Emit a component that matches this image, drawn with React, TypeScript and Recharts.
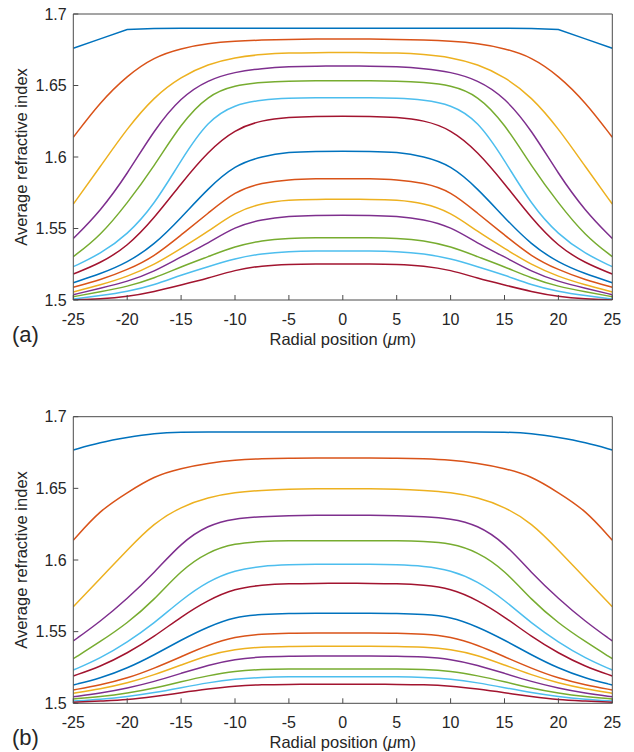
import React from 'react';
import { LineChart, Line, XAxis, YAxis } from 'recharts';

const FONT = '"Liberation Sans", Arial, Helvetica, sans-serif';
const TEXT = '#262626';
const AXIS = '#4a4a4a';
const COLORS = ['#0072BD', '#D95319', '#EDB120', '#7E2F8E', '#77AC30', '#4DBEEE', '#A2142F'];

const radialPositions = [-25, -22.5, -20, -17.5, -15, -12.5, -10, -7.5, -5, -2.5, 0, 2.5, 5, 7.5, 10, 12.5, 15, 17.5, 20, 22.5, 25];
const xTicks = [-25, -20, -15, -10, -5, 0, 5, 10, 15, 20, 25];
const yTicks = [1.5, 1.55, 1.6, 1.65, 1.7];
const xTitle = 'Radial position (';
const yTitle = 'Average refractive index';

// Panel (a)
const a1 = [1.676, 1.6826, 1.6892, 1.6898, 1.69, 1.69, 1.69, 1.69, 1.69, 1.69, 1.69, 1.69, 1.69, 1.69, 1.69, 1.69, 1.69, 1.6898, 1.6892, 1.6826, 1.676];
const a2 = [1.6138, 1.6385, 1.657, 1.67, 1.676, 1.6795, 1.681, 1.6818, 1.6823, 1.6825, 1.6825, 1.6825, 1.6823, 1.6818, 1.681, 1.6795, 1.676, 1.67, 1.657, 1.6385, 1.6138];
const a3 = [1.5671, 1.5932, 1.6201, 1.6422, 1.6562, 1.665, 1.6697, 1.6718, 1.6728, 1.673, 1.673, 1.673, 1.6728, 1.6718, 1.6697, 1.665, 1.6562, 1.6422, 1.6201, 1.5932, 1.5671];
const a4 = [1.543, 1.562, 1.588, 1.619, 1.642, 1.654, 1.6595, 1.662, 1.6632, 1.6636, 1.6636, 1.6636, 1.6632, 1.662, 1.6595, 1.654, 1.642, 1.619, 1.588, 1.562, 1.543];
const a5 = [1.5303, 1.5448, 1.5676, 1.5935, 1.6235, 1.6434, 1.6503, 1.6522, 1.6531, 1.6534, 1.6534, 1.6534, 1.6531, 1.6522, 1.6503, 1.6434, 1.6235, 1.5935, 1.5676, 1.5448, 1.5303];
const a6 = [1.5233, 1.5322, 1.5455, 1.5664, 1.5979, 1.6259, 1.6368, 1.64, 1.6412, 1.6415, 1.6415, 1.6415, 1.6412, 1.64, 1.6368, 1.6259, 1.5979, 1.5664, 1.5455, 1.5322, 1.5233];
const a7 = [1.5182, 1.5257, 1.5373, 1.5571, 1.5815, 1.604, 1.6195, 1.6258, 1.6278, 1.6285, 1.6285, 1.6285, 1.6278, 1.6258, 1.6195, 1.604, 1.5815, 1.5571, 1.5373, 1.5257, 1.5182];
const a8 = [1.5121, 1.5182, 1.5261, 1.5385, 1.5575, 1.5781, 1.5944, 1.6005, 1.6035, 1.604, 1.604, 1.604, 1.6035, 1.6005, 1.5944, 1.5781, 1.5575, 1.5385, 1.5261, 1.5182, 1.5121];
const a9 = [1.5089, 1.514, 1.521, 1.5303, 1.5455, 1.5606, 1.5762, 1.582, 1.5843, 1.5848, 1.5848, 1.5848, 1.5843, 1.582, 1.5762, 1.5606, 1.5455, 1.5303, 1.521, 1.514, 1.5089];
const a10 = [1.5056, 1.5105, 1.5163, 1.5245, 1.5361, 1.5478, 1.5615, 1.5678, 1.57, 1.5704, 1.5704, 1.5704, 1.57, 1.5678, 1.5615, 1.5478, 1.5361, 1.5245, 1.5163, 1.5105, 1.5056];
const a11 = [1.5037, 1.5082, 1.5128, 1.5198, 1.5303, 1.5396, 1.5513, 1.5565, 1.5587, 1.5592, 1.5592, 1.5592, 1.5587, 1.5565, 1.5513, 1.5396, 1.5303, 1.5198, 1.5128, 1.5082, 1.5037];
const a12 = [1.5023, 1.5058, 1.5093, 1.5152, 1.5233, 1.5303, 1.5375, 1.5418, 1.5432, 1.5436, 1.5436, 1.5436, 1.5432, 1.5418, 1.5375, 1.5303, 1.5233, 1.5152, 1.5093, 1.5058, 1.5023];
const a13 = [1.5007, 1.503, 1.5058, 1.5105, 1.5175, 1.5233, 1.529, 1.5325, 1.534, 1.5343, 1.5343, 1.5343, 1.534, 1.5325, 1.529, 1.5233, 1.5175, 1.5105, 1.5058, 1.503, 1.5007];
const a14 = [1.5, 1.5007, 1.5023, 1.5058, 1.5105, 1.5152, 1.521, 1.524, 1.525, 1.5252, 1.5252, 1.5252, 1.525, 1.524, 1.521, 1.5152, 1.5105, 1.5058, 1.5023, 1.5007, 1.5];

// Panel (b)
const b1 = [1.6768, 1.6821, 1.6856, 1.6884, 1.6893, 1.6893, 1.6893, 1.6893, 1.6893, 1.6893, 1.6893, 1.6893, 1.6893, 1.6893, 1.6893, 1.6893, 1.6893, 1.6884, 1.6856, 1.6821, 1.6768];
const b2 = [1.6138, 1.6349, 1.647, 1.6586, 1.664, 1.6675, 1.6698, 1.6707, 1.6711, 1.6712, 1.6712, 1.6712, 1.6711, 1.6707, 1.6698, 1.6675, 1.664, 1.6586, 1.647, 1.6349, 1.6138];
const b3 = [1.5674, 1.587, 1.607, 1.626, 1.6372, 1.6437, 1.6472, 1.6486, 1.6495, 1.6498, 1.6498, 1.6498, 1.6495, 1.6486, 1.6472, 1.6437, 1.6372, 1.626, 1.607, 1.587, 1.5674];
const b4 = [1.5435, 1.557, 1.573, 1.591, 1.612, 1.6245, 1.629, 1.6303, 1.631, 1.6312, 1.6312, 1.6312, 1.631, 1.6303, 1.629, 1.6245, 1.612, 1.591, 1.573, 1.557, 1.5435];
const b5 = [1.5311, 1.543, 1.5558, 1.5721, 1.593, 1.6058, 1.6117, 1.613, 1.6134, 1.6135, 1.6135, 1.6135, 1.6134, 1.613, 1.6117, 1.6058, 1.593, 1.5721, 1.5558, 1.543, 1.5311];
const b6 = [1.5232, 1.5314, 1.5426, 1.5558, 1.5721, 1.5853, 1.593, 1.5958, 1.5967, 1.597, 1.597, 1.597, 1.5967, 1.5958, 1.593, 1.5853, 1.5721, 1.5558, 1.5426, 1.5314, 1.5232];
const b7 = [1.5191, 1.5256, 1.5349, 1.5465, 1.5604, 1.5721, 1.5802, 1.5826, 1.5835, 1.5837, 1.5837, 1.5837, 1.5835, 1.5826, 1.5802, 1.5721, 1.5604, 1.5465, 1.5349, 1.5256, 1.5191];
const b8 = [1.5128, 1.5174, 1.5244, 1.5337, 1.5442, 1.5535, 1.5604, 1.5621, 1.5627, 1.5628, 1.5628, 1.5628, 1.5627, 1.5621, 1.5604, 1.5535, 1.5442, 1.5337, 1.5244, 1.5174, 1.5128];
const b9 = [1.5093, 1.5128, 1.5174, 1.5244, 1.5325, 1.5407, 1.5465, 1.5484, 1.549, 1.5491, 1.5491, 1.5491, 1.549, 1.5484, 1.5465, 1.5407, 1.5325, 1.5244, 1.5174, 1.5128, 1.5093];
const b10 = [1.507, 1.51, 1.514, 1.5198, 1.5267, 1.5337, 1.5379, 1.5393, 1.5397, 1.5398, 1.5398, 1.5398, 1.5397, 1.5393, 1.5379, 1.5337, 1.5267, 1.5198, 1.514, 1.51, 1.507];
const b11 = [1.5046, 1.507, 1.5105, 1.5151, 1.5209, 1.5267, 1.5309, 1.5325, 1.5329, 1.533, 1.533, 1.533, 1.5329, 1.5325, 1.5309, 1.5267, 1.5209, 1.5151, 1.5105, 1.507, 1.5046];
const b12 = [1.503, 1.5046, 1.507, 1.5105, 1.5151, 1.5193, 1.5225, 1.5237, 1.5239, 1.5239, 1.5239, 1.5239, 1.5239, 1.5237, 1.5225, 1.5193, 1.5151, 1.5105, 1.507, 1.5046, 1.503];
const b13 = [1.5016, 1.5028, 1.5046, 1.5074, 1.5109, 1.5144, 1.517, 1.5181, 1.5185, 1.5186, 1.5186, 1.5186, 1.5185, 1.5181, 1.517, 1.5144, 1.5109, 1.5074, 1.5046, 1.5028, 1.5016];
const b14 = [1.5007, 1.5016, 1.5023, 1.5046, 1.5074, 1.51, 1.5121, 1.513, 1.5132, 1.5133, 1.5133, 1.5133, 1.5132, 1.513, 1.5121, 1.51, 1.5074, 1.5046, 1.5023, 1.5016, 1.5007];

const seriesA = [a1, a2, a3, a4, a5, a6, a7, a8, a9, a10, a11, a12, a13, a14];
const seriesB = [b1, b2, b3, b4, b5, b6, b7, b8, b9, b10, b11, b12, b13, b14];

function buildRows(series: number[][]) {
  return radialPositions.map((x, i) => {
    const row: Record<string, number> = { x };
    series.forEach((s, k) => {
      row['s' + (k + 1)] = s[i];
    });
    return row;
  });
}

const CHART_W = 634;
const CHART_H = 376;
const PLOT_LEFT = 73.3;
const PLOT_RIGHT_GAP = 21.7;
const XAXIS_H = 30;

function Panel({ series, tag, plotTop, plotBottom, kinked }: { series: number[][]; tag: string; plotTop: number; plotBottom: number; kinked: boolean }) {
  const data = buildRows(series);
  const renderXLabel = () => (
    <g>
      <text
        x={PLOT_LEFT + (CHART_W - PLOT_LEFT - PLOT_RIGHT_GAP) / 2}
        y={plotBottom + 44.5}
        textAnchor="middle"
        fontFamily={FONT}
        fontSize={16.5}
        fill={TEXT}
      >
        {xTitle}
        <tspan fontStyle="italic">μ</tspan>
        {'m)'}
      </text>
      <text x={12} y={plotBottom + 42} fontFamily={FONT} fontSize={22} fill={TEXT}>
        {tag}
      </text>
    </g>
  );
  const renderYLabel = () => {
    const cy = (plotTop + plotBottom) / 2;
    return (
      <text
        x={27}
        y={cy}
        transform={`rotate(-90, 27, ${cy})`}
        textAnchor="middle"
        fontFamily={FONT}
        fontSize={16.5}
        fill={TEXT}
      >
        {yTitle}
      </text>
    );
  };
  const tickStyle = { fill: TEXT, fontSize: 16, fontFamily: FONT };
  return (
    <LineChart
      width={CHART_W}
      height={CHART_H}
      data={data}
      margin={{ top: plotTop - 1, right: PLOT_RIGHT_GAP - 1, bottom: CHART_H - plotBottom - XAXIS_H, left: 0 }}
    >
      <XAxis
        xAxisId="bottom"
        dataKey="x"
        type="number"
        domain={[-25, 25]}
        ticks={xTicks}
        interval={0}
        allowDataOverflow
        height={XAXIS_H}
        stroke={AXIS}
        tickSize={-5}
        tickMargin={18.3}
        tick={tickStyle}
        label={renderXLabel}
      />
      <XAxis
        xAxisId="top"
        orientation="top"
        dataKey="x"
        type="number"
        domain={[-25, 25]}
        ticks={xTicks}
        interval={0}
        allowDataOverflow
        height={1}
        stroke={AXIS}
        tickSize={-5}
        tick={false}
      />
      <YAxis
        yAxisId="left"
        type="number"
        domain={[1.5, 1.7]}
        ticks={yTicks}
        interval={0}
        allowDataOverflow
        width={PLOT_LEFT}
        stroke={AXIS}
        tickSize={-5}
        tickMargin={11.6}
        tick={tickStyle}
        label={renderYLabel}
      />
      <YAxis
        yAxisId="right"
        orientation="right"
        type="number"
        domain={[1.5, 1.7]}
        ticks={yTicks}
        interval={0}
        allowDataOverflow
        width={1}
        stroke={AXIS}
        tickSize={-5}
        tick={false}
      />
      {series.map((_, k) => (
        <Line
          key={k}
          xAxisId="bottom"
          yAxisId="left"
          type={k === 0 && kinked ? 'linear' : 'basis'}
          dataKey={'s' + (k + 1)}
          stroke={COLORS[k % COLORS.length]}
          strokeWidth={1.5}
          dot={false}
          activeDot={false}
          isAnimationActive={false}
        />
      ))}
    </LineChart>
  );
}

export default function App() {
  return (
    <div style={{ position: 'absolute', left: 0, top: 0, width: 634, height: 752, background: '#fff', overflow: 'hidden' }}>
      <div style={{ position: 'absolute', left: 0, top: 0 }}>
        <Panel series={seriesA} tag="(a)" plotTop={14} plotBottom={300} kinked={true} />
      </div>
      <div style={{ position: 'absolute', left: 0, top: 376 }}>
        <Panel series={seriesB} tag="(b)" plotTop={40.7} plotBottom={327.3} kinked={false} />
      </div>
    </div>
  );
}
